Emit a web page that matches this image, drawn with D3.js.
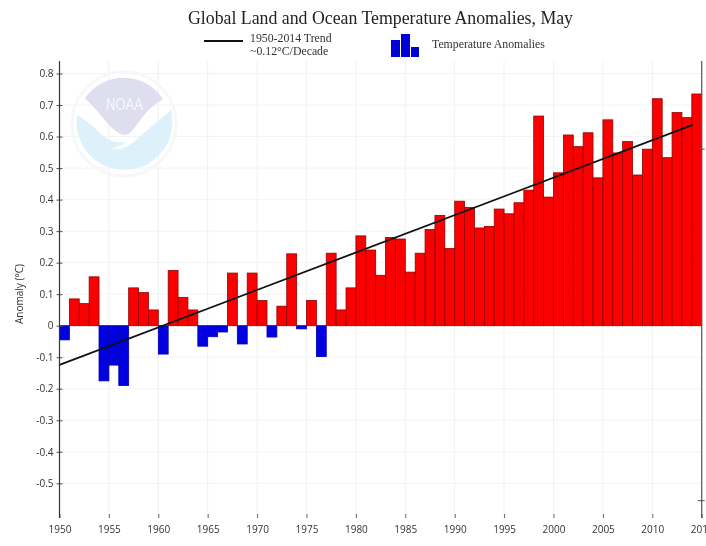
<!DOCTYPE html>
<html lang="en">

<head>
    <meta charset="utf-8">
    <title>Global Land and Ocean Temperature Anomalies, May</title>
    <style>
        * {
            margin: 0;
            padding: 0;
        }

        body {
            background: #fff;
            overflow: hidden;
        }

        svg {
            display: block;
            filter: blur(0.45px);
        }

        .tick-label {
            font-family: 'Open Sans', sans-serif;
            font-size: 10px;
            fill: #333;
        }

        .serif {
            font-family: 'Liberation Serif', serif;
            fill: #333;
        }
    </style>
</head>

<body>
    <div id="chart"></div>
    <script src="https://d3js.org/d3.v7.min.js"></script>

    <script>
        var years = d3.range(1950, 2015);
        var anomalies = [
            -0.045, 0.085, 0.07, 0.155, -0.175, -0.125, -0.19, 0.12, 0.105, 0.05,
            -0.09, 0.175, 0.09, 0.05, -0.065, -0.035, -0.02, 0.167, -0.058, 0.167,
            0.08, -0.036, 0.062, 0.228, -0.01, 0.08, -0.098, 0.23, 0.05, 0.12,
            0.285, 0.24, 0.16, 0.28, 0.275, 0.17, 0.23, 0.305, 0.35, 0.245,
            0.395, 0.375, 0.31, 0.315, 0.37, 0.355, 0.39, 0.43, 0.665, 0.408,
            0.485, 0.605, 0.568, 0.612, 0.469, 0.653, 0.548, 0.584, 0.478, 0.56,
            0.72, 0.533, 0.676, 0.66, 0.735
        ];
        var trendYears = [1950, 2014.1];
        var trendValues = [-0.124, 0.637];
        var yTicks = [0.8, 0.7, 0.6, 0.5, 0.4, 0.3, 0.2, 0.1, 0, -0.1, -0.2, -0.3, -0.4, -0.5];
        var xTicks = d3.range(1950, 2016, 5);
        var rightTicks = [0.56, -0.555];

        var width = 706,
            height = 546;

        var x = d3.scaleLinear().domain([1950, 2015]).range([59.5, 701.7]);
        var y = d3.scaleLinear().domain([0, 0.8]).range([325.7, 73.5]);
        var plotTop = 61,
            plotBottom = 518;

        var svg = d3.select("#chart")
            .append("svg")
            .attr("width", width)
            .attr("height", height);

        // grid
        svg.append("g")
            .selectAll("line")
            .data(yTicks)
            .enter()
            .append("line")
            .attr("x1", x.range()[0])
            .attr("x2", x.range()[1])
            .attr("y1", function (d) { return y(d); })
            .attr("y2", function (d) { return y(d); })
            .style("stroke", "#f3f3f3");

        svg.append("g")
            .selectAll("line")
            .data(xTicks)
            .enter()
            .append("line")
            .attr("x1", function (d) { return x(d); })
            .attr("x2", function (d) { return x(d); })
            .attr("y1", plotTop)
            .attr("y2", plotBottom)
            .style("stroke", "#f1f1f1");

        // noaa logo watermark
        var logo = svg.append("g").attr("transform", "translate(124,124)");
        logo.append("circle").attr("r", 52)
            .style("fill", "none")
            .style("stroke", "#f5f7f9")
            .style("stroke-width", 3);
        logo.append("path")
            .attr("d", "M-39,-26 A47,47 0 0 1 39,-25 Q24,-16 14,-1 Q6,11 2,11 Q-6,11 -15,1 Q-26,-13 -39,-26 Z")
            .style("fill", "#dedeee");
        logo.append("path")
            .attr("d", "M-47,-9 Q-36,-3 -22,11 Q-12,20 2,18 Q-6,24 -14,25 Q0,27 12,16 Q28,2 47,-14 A48,48 0 1 1 -47,-9 Z")
            .style("fill", "#ddf1fb");
        logo.append("text")
            .attr("x", -18)
            .attr("y", -14)
            .attr("textLength", 37)
            .attr("lengthAdjust", "spacingAndGlyphs")
            .style("font-family", "'Liberation Sans', sans-serif")
            .style("font-size", "17px")
            .style("fill", "#f7f7fc")
            .text("NOAA");

        // bars
        svg.append("g")
            .selectAll("rect")
            .data(anomalies)
            .enter()
            .append("rect")
            .attr("x", function (d, i) { return x(years[i]); })
            .attr("width", function (d, i) { return x(years[i] + 1) - x(years[i]); })
            .attr("y", function (d) { return d > 0 ? y(d) : y(0); })
            .attr("height", function (d) { return Math.abs(y(d) - y(0)); })
            .style("fill", function (d) { return d > 0 ? "#fa0000" : "#0000e0"; })
            .style("stroke", function (d) { return d > 0 ? "#960000" : "#0000b4"; })
            .style("stroke-width", 0.8);

        // trend
        var line = d3.line()
            .x(function (d, i) { return x(trendYears[i]); })
            .y(function (d) { return y(d); });

        svg.append("path")
            .attr("d", line(trendValues))
            .style("fill", "none")
            .style("stroke", "#111")
            .style("stroke-width", 1.8);

        // axes
        var yAxis = d3.axisLeft(y)
            .tickValues(yTicks)
            .tickSize(6)
            .tickPadding(4)
            .tickFormat(function (d) { return d === 0 ? "0" : d.toFixed(1); });

        var yG = svg.append("g")
            .attr("transform", "translate(" + x.range()[0] + ",0)")
            .call(yAxis);
        yG.select(".domain").remove();
        yG.selectAll(".tick line").attr("x1", -3).attr("x2", 3).style("stroke", "#555");
        yG.selectAll("text").attr("class", "tick-label").attr("x", -6);

        var xAxis = d3.axisBottom(x)
            .tickValues(xTicks)
            .tickSize(4)
            .tickPadding(8)
            .tickFormat(d3.format("d"));

        var xG = svg.append("g")
            .attr("transform", "translate(0," + (plotBottom - 4) + ")")
            .call(xAxis);
        xG.select(".domain").remove();
        xG.selectAll(".tick line").style("stroke", "#666");
        xG.selectAll("text").attr("class", "tick-label");

        svg.append("line")
            .attr("x1", x.range()[0]).attr("x2", x.range()[0])
            .attr("y1", plotTop).attr("y2", plotBottom)
            .style("stroke", "#333")
            .style("stroke-width", 1.2);

        svg.append("line")
            .attr("x1", x.range()[1]).attr("x2", x.range()[1])
            .attr("y1", plotTop).attr("y2", plotBottom)
            .style("stroke", "#555")
            .style("stroke-width", 1.2);

        svg.append("g")
            .selectAll("line")
            .data(rightTicks)
            .enter()
            .append("line")
            .attr("x1", x.range()[1] - 4)
            .attr("x2", x.range()[1] + 3)
            .attr("y1", function (d) { return y(d); })
            .attr("y2", function (d) { return y(d); })
            .style("stroke", "#555");

        svg.append("text")
            .attr("class", "tick-label")
            .attr("transform", "translate(23,294) rotate(-90)")
            .attr("text-anchor", "middle")
            .text("Anomaly (°C)");

        // title and legend
        svg.append("text")
            .attr("class", "serif")
            .attr("x", 380.5)
            .attr("y", 24)
            .attr("text-anchor", "middle")
            .style("font-size", "17.8px")
            .style("fill", "#222")
            .text("Global Land and Ocean Temperature Anomalies, May");

        svg.append("line")
            .attr("x1", 204).attr("x2", 243)
            .attr("y1", 41).attr("y2", 41)
            .style("stroke", "#111")
            .style("stroke-width", 1.8);

        svg.append("text").attr("class", "serif")
            .attr("x", 250).attr("y", 42)
            .style("font-size", "11.8px")
            .text("1950-2014 Trend");
        svg.append("text").attr("class", "serif")
            .attr("x", 250).attr("y", 55)
            .style("font-size", "11.8px")
            .text("~0.12°C/Decade");

        var legendBars = [[391, 40, 9, 17], [401, 34, 9, 23], [411, 47, 8, 10]];
        svg.append("g")
            .selectAll("rect")
            .data(legendBars)
            .enter()
            .append("rect")
            .attr("x", function (d) { return d[0]; })
            .attr("y", function (d) { return d[1]; })
            .attr("width", function (d) { return d[2]; })
            .attr("height", function (d) { return d[3]; })
            .style("fill", "#0000d8");

        svg.append("text").attr("class", "serif")
            .attr("x", 432).attr("y", 48)
            .style("font-size", "11.8px")
            .text("Temperature Anomalies");
    </script>
</body>

</html>
